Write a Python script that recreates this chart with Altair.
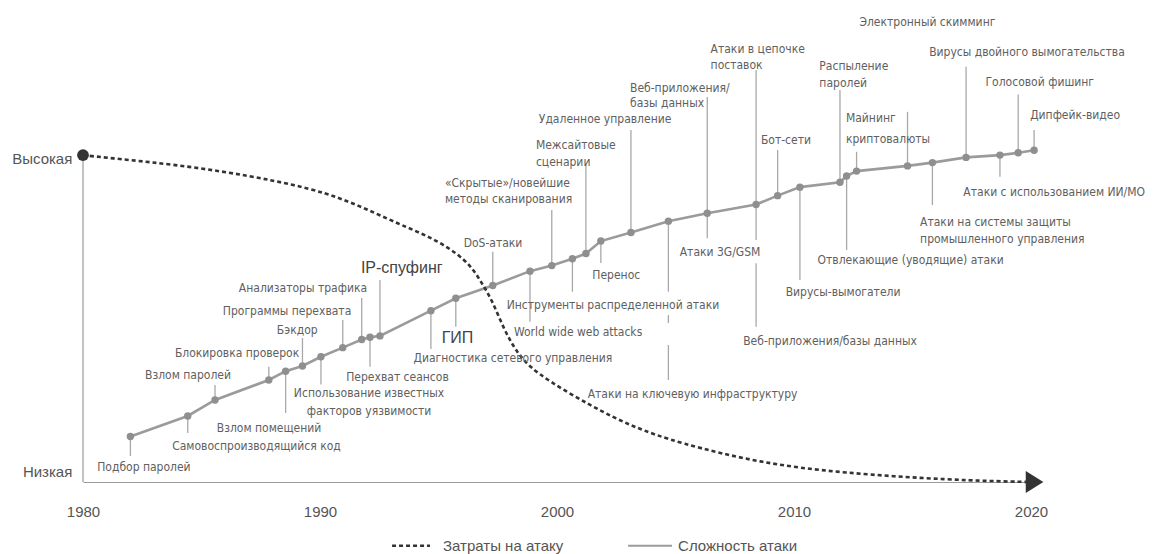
import altair as alt
import pandas as pd

# ---- values ----
YEARS = [1982.0, 1984.42, 1985.57, 1987.84, 1988.55, 1989.26, 1990.04, 1990.96, 1991.76, 1992.11,
         1992.53, 1994.68, 1995.73, 1997.29, 1998.86, 1999.78, 2000.65, 2001.22, 2001.85, 2003.12,
         2004.70, 2006.34, 2008.40, 2009.31, 2010.25, 2011.94, 2012.22, 2012.64, 2014.79, 2015.84,
         2017.26, 2018.69, 2019.46, 2020.13]
COMPLEXITY = [13.9, 20.2, 25.1, 31.2, 33.9, 35.5, 38.3, 41.1, 43.6, 44.3,
              44.7, 52.4, 56.2, 60.1, 64.5, 66.2, 68.3, 69.9, 73.7, 76.3,
              79.8, 82.2, 84.9, 87.6, 90.2, 91.7, 93.6, 95.1, 96.7, 97.7,
              99.3, 100.0, 100.7, 101.5]

COST_YEARS = [1980.0, 1980.7, 1984.9, 1989.2, 1991.27, 1993.4, 1994.8, 1996.2, 1996.75, 1997.26,
              1997.72, 1998.23, 1998.99, 2001.52, 2003.21, 2005.15, 2008.57, 2012.03, 2016.58, 2019.96]
COST = [100, 99.4, 96.4, 90.8, 85.9, 78.6, 74.6, 67.9, 61.8, 55.7,
        47.4, 40.4, 33.6, 22.9, 16.8, 11.9, 5.8, 2.75, 0.6, 0]

X_TICKS = [1980, 1990, 2000, 2010, 2020]
LEVEL_LABELS = ["Высокая", "Низкая"]
LEGEND_LABELS = ["Затраты на атаку", "Сложность атаки"]

# ---- annotation layout: (dot index, text lines, label x, label y per line, align, leader segments, big) ----
ANNOT = [
    (0, ["Подбор паролей"], 1982.57, [4.68], "center", [(None, 7.95)], False),
    (1, ["Самовоспроизводящийся код"], 1987.32, [11.10], "center", [(None, 14.98)], False),
    (2, ["Взлом паролей"], 1984.43, [32.72], "center", [(None, 29.66)], False),
    (3, ["Блокировка проверок"], 1986.50, [39.36], "center", [(None, 35.26)], False),
    (4, ["Взлом помещений"], 1987.85, [16.61], "center", [(None, 21.10)], False),
    (5, ["Бэкдор"], 1989.04, [46.48], "center", [(None, 44.04)], False),
    (6, ["Использование известных", "факторов уязвимости"], 1992.07, [27.13, 21.62], "center", [(None, 29.8)], False),
    (7, ["Программы перехвата"], 1988.61, [52.39], "center", [(None, 49.54)], False),
    (8, ["Анализаторы трафика"], 1989.28, [59.24], "center", [(None, 56.27)], False),
    (9, ["Перехват сеансов"], 1993.27, [32.20], "center", [(None, 35.26)], False),
    (10, ["IP-спуфинг"], 1993.45, [65.35], "center", [(None, 61.77)], True),
    (11, ["Диагностика сетевого управления"], 1998.14, [37.83], "center", [(None, 40.67)], False),
    (12, ["ГИП"], 1995.80, [43.94], "center", [(None, 47.49)], True),
    (13, ["DoS-атаки"], 1997.30, [73.0], "center", [(None, 70.43)], False),
    (14, ["World wide web attacks"], 2000.89, [45.96], "center", [(None, 49.02)], False),
    (15, ["«Скрытые»/новейшие", "методы сканирования"], 1995.27, [91.35, 86.54], "left", [(None, 83.18)], False),
    (16, ["Инструменты распределенной атаки"], 2002.36, [54.13], "center", [(None, 58.20)], False),
    (17, ["Межсайтовые", "сценарии"], 1999.11, [103.06, 97.77], "left", [(None, 96.94)], False),
    (18, ["Перенос"], 2002.50, [63.30], "center", [(None, 66.97)], False),
    (19, ["Удаленное управление"], 2002.03, [111.01], "center", [(None, 107.65)], False),
    (20, ["Атаки на ключевую инфраструктуру"], 2005.72, [26.91], "center",
     [(None, 58.20), (51.07, 48.62), (41.90, 31.19)], False),
    (21, ["Веб-приложения/", "базы данных"], 2003.08, [120.40, 115.81], "left", [(None, 117.74)], False),
    (21, ["Атаки 3G/GSM"], 2006.88, [70.43], "center", [(None, 74.53)], False),
    (22, ["Атаки в цепочке", "поставок"], 2006.48, [132.32, 127.52], "left", [(None, 125.99)], False),
    (22, ["Веб-приложения/базы данных"], 2011.52, [43.21], "center", [(None, 74.01), (66.88, 47.49)], False),
    (23, ["Бот-сети"], 2009.66, [104.59], "center", [(None, 101.53)], False),
    (24, ["Вирусы-вымогатели"], 2012.07, [58.01], "center", [(None, 61.77)], False),
    (25, ["Распыление", "паролей"], 2011.07, [127.31, 122.11], "left", [(None, 119.88)], False),
    (26, ["Отвлекающие (уводящие) атаки"], 2014.92, [67.89], "center", [(None, 70.95)], False),
    (27, ["Майнинг", "криптовалюты"], 2012.19, [111.22, 104.80], "left", [(None, 101.01)], False),
    (28, ["Электронный скимминг"], 2012.76, [140.58], "left", [(None, 113.24)], False),
    (29, ["Атаки на системы защиты", "промышленного управления"], 2015.32, [79.60, 74.31], "left", [(None, 84.71)], False),
    (30, ["Вирусы двойного вымогательства"], 2019.83, [131.41], "center", [(None, 127.0)], False),
    (31, ["Атаки с использованием ИИ/МО"], 2020.98, [88.78], "center", [(None, 93.36)], False),
    (32, ["Голосовой фишинг"], 2020.37, [122.42], "center", [(None, 118.56)], False),
    (33, ["Дипфейк-видео"], 2021.86, [112.23], "center", [(None, 107.65)], False),
]

# ---- build tables ----
line_df = pd.DataFrame({"year": YEARS, "level": COMPLEXITY})
cost_df = pd.DataFrame({"year": COST_YEARS, "level": COST})

text_rows, rule_rows = [], []
for di, lines, lx, lys, align, segs, big in ANNOT:
    for t, ly in zip(lines, lys):
        text_rows.append({"t": t, "x": lx, "y": ly, "align": align, "big": big})
    for a, b in segs:
        rule_rows.append({"x": YEARS[di], "y": COMPLEXITY[di] if a is None else a, "y2": b})
text_df = pd.DataFrame(text_rows)
rule_df = pd.DataFrame(rule_rows)

XS = alt.Scale(domain=[1980, 2020], nice=False, zero=False)
YS = alt.Scale(domain=[0, 145], nice=False, zero=False)
XAX = alt.Axis(values=X_TICKS, format="d", title=None, grid=False, ticks=False,
               domain=True, domainColor="#9a9a9a", domainWidth=1.2, labelFlush=False,
               labelFont="Liberation Sans", labelFontSize=15, labelColor="#555555",
               labelPadding=22)

def X(f):
    return alt.X(f, type="quantitative", scale=XS, axis=XAX)

def Y(f):
    return alt.Y(f, type="quantitative", scale=YS, axis=None)

NARROW = "DejaVu Sans Condensed, Liberation Sans Narrow, sans-serif"
GRAY_TXT = "#606060"

# y axis line
yline = alt.Chart(pd.DataFrame({"x": [1980], "y": [0], "y2": [100]})).mark_rule(
    color="#9a9a9a", strokeWidth=1.2).encode(x=X("x"), y=Y("y"), y2="y2")

leaders = alt.Chart(rule_df).mark_rule(color="#a8a8a8", strokeWidth=1.3).encode(
    x=X("x"), y=Y("y"), y2="y2")

solid = alt.Chart(line_df).mark_line(color="#9b9b9b", strokeWidth=2.6).encode(
    x=X("year"), y=Y("level"))
dots = alt.Chart(line_df).mark_circle(color="#8f8f8f", size=55, opacity=1).encode(
    x=X("year"), y=Y("level"))

cost = alt.Chart(cost_df).mark_line(color="#333333", strokeWidth=2.6, strokeDash=[4, 3],
                                    interpolate="basis").encode(x=X("year"), y=Y("level"))
start_dot = alt.Chart(cost_df.head(1)).mark_circle(color="#333333", size=140, opacity=1).encode(
    x=X("year"), y=Y("level"))
arrow = alt.Chart(pd.DataFrame({"x": [2020.15], "y": [0]})).mark_point(
    shape="M-0.8,-1L0.8,0L-0.8,1Z", filled=True, color="#333333", size=484, opacity=1).encode(
    x=X("x"), y=Y("y"))

def labels(align, big):
    d = text_df[(text_df["align"] == align) & (text_df["big"] == big)]
    if big:
        m = alt.Chart(d).mark_text(align=align, baseline="middle", font="Liberation Sans",
                                   fontSize=16, color="#444444")
    else:
        m = alt.Chart(d).mark_text(align=align, baseline="middle", font=NARROW,
                                   fontSize=12, color=GRAY_TXT)
    return m.encode(x=X("x"), y=Y("y"), text="t:N")

lab_c = labels("center", False)
lab_l = labels("left", False)
lab_b = labels("center", True)

level_df = pd.DataFrame({"x": [1979.55, 1979.55], "y": [98.9, 3.2], "t": LEVEL_LABELS})
level_txt = alt.Chart(level_df).mark_text(align="right", baseline="middle", font="Liberation Sans",
                                          fontSize=15, color="#555555").encode(
    x=X("x"), y=Y("y"), text="t:N")

# legend
leg_y = -19.5
leg_dash = alt.Chart(pd.DataFrame({"x": [1993.04], "x2": [1994.64], "y": [leg_y]})).mark_rule(
    color="#333333", strokeWidth=2.6, strokeDash=[4, 3]).encode(x=X("x"), x2="x2", y=Y("y"))
leg_solid = alt.Chart(pd.DataFrame({"x": [2003.0], "x2": [2004.85], "y": [leg_y]})).mark_rule(
    color="#9b9b9b", strokeWidth=2.2).encode(x=X("x"), x2="x2", y=Y("y"))
leg_txt = alt.Chart(pd.DataFrame({"x": [1995.19, 2005.11], "y": [leg_y, leg_y], "t": LEGEND_LABELS})).mark_text(
    align="left", baseline="middle", font="Liberation Sans", fontSize=15, color="#555555").encode(
    x=X("x"), y=Y("y"), text="t:N")

chart = alt.layer(
    yline, leaders, solid, dots, cost, start_dot, arrow,
    lab_c, lab_l, lab_b, level_txt, leg_dash, leg_solid, leg_txt
).properties(
    width=948, height=474,
    padding={"left": 75, "top": 0, "right": 116, "bottom": 80},
    autosize=alt.AutoSizeParams(type="none"),
).configure_view(stroke=None)

chart.save("out.html", embed_options={"renderer": "svg", "actions": False})
